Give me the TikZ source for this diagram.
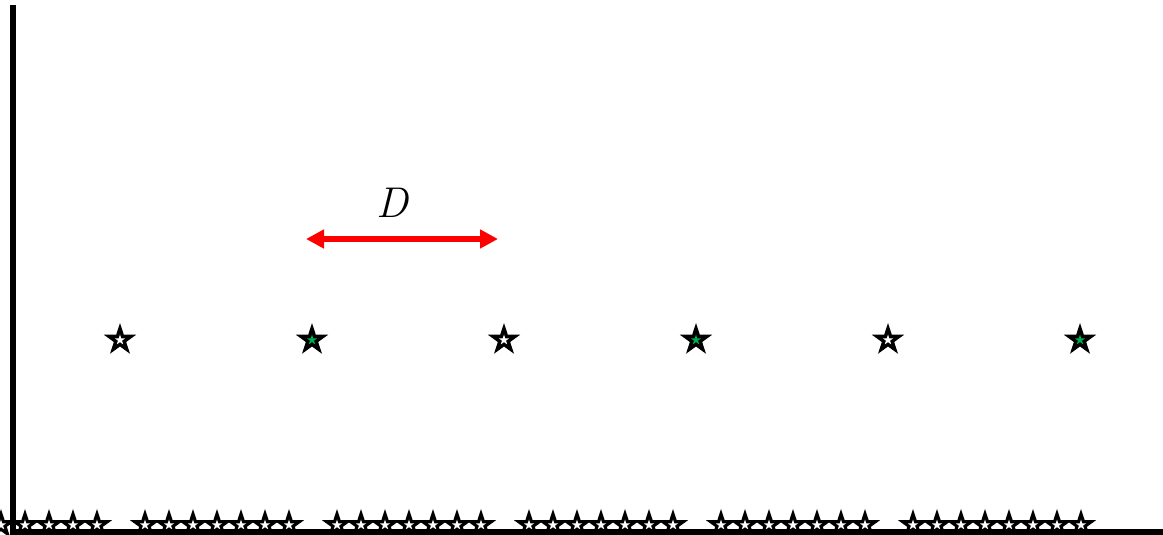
\documentclass[tikz,border=0pt]{standalone}
\usetikzlibrary{arrows.meta}
\tikzset{
  pics/mystar/.style args={#1/#2/#3}{code={
    \fill[black] (90:#1pt) -- (126:0.382*#1pt) -- (162:#1pt) -- (198:0.382*#1pt) -- (234:#1pt) -- (270:0.382*#1pt) -- (306:#1pt) -- (342:0.382*#1pt) -- (18:#1pt) -- (54:0.382*#1pt) -- cycle;
    \fill[#3] (90:#2pt) -- (126:0.382*#2pt) -- (162:#2pt) -- (198:0.382*#2pt) -- (234:#2pt) -- (270:0.382*#2pt) -- (306:#2pt) -- (342:0.382*#2pt) -- (18:#2pt) -- (54:0.382*#2pt) -- cycle;
  }},
  axisline/.style={line width=6pt, black},
  darrow/.style={red, line width=6.5pt, {Triangle[length=18pt,width=18pt]}-{Triangle[length=18pt,width=18pt]}},
}
\definecolor{stargreen}{RGB}{0,170,80}
\begin{document}
\begin{tikzpicture}[x=1pt,y=1pt]
\useasboundingbox (0,0) rectangle (1163,535);
% bottom star clusters
\foreach \x in {1,25,49,73,97,
                145,169,193,217,241,265,289,
                337,361,385,409,433,457,481,
                529,553,577,601,625,649,673,
                721,745,769,793,817,841,865,
                913,937,961,985,1009,1033,1057,1081}
  \pic at (\x,10) {mystar={16/5.5/white}};
% axes
\draw[axisline] (13,530) -- (13,0);
\draw[axisline] (10,3) -- (1170,3);
% upper stars
\foreach \x/\c in {120/white,312/stargreen,504/white,696/stargreen,888/white,1080/stargreen}
  \pic at (\x,195) {mystar={17/5.5/\c}};
% distance arrow
\coordinate (a1) at (306,296);
\coordinate (a2) at (498,296);
\draw[darrow] (a1) -- (a2);
\node[anchor=base, inner sep=0pt] (D) at (392,317) {\fontsize{43}{48}\selectfont\itshape D};
\end{tikzpicture}
\end{document}
